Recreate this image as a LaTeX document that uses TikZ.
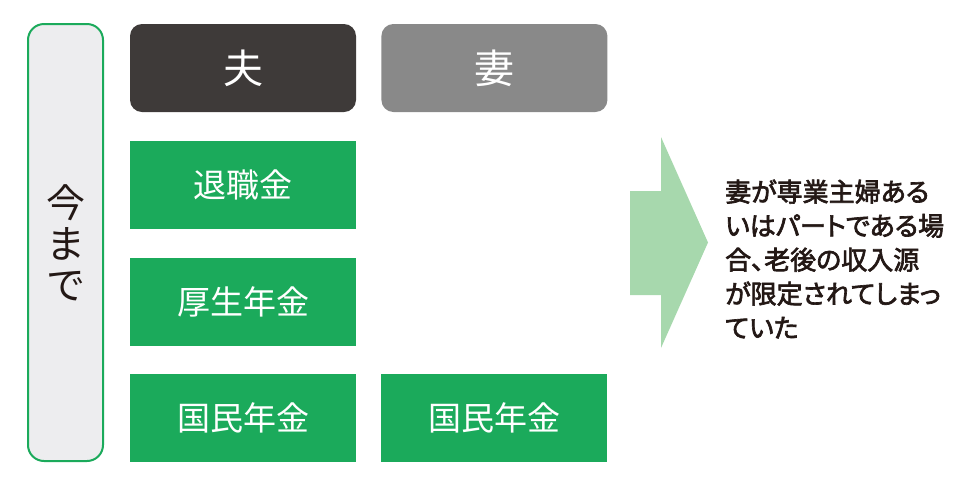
\documentclass[tikz,border=0pt]{standalone}
\usepackage{fontspec}
\setmainfont{Noto Sans CJK JP}
\newfontfamily\notefont[RawFeature=+palt, FakeBold=2.5]{Noto Sans CJK JP}
\usetikzlibrary{positioning}
\definecolor{cdark}{HTML}{3E3A39}
\definecolor{cgrey}{HTML}{898989}
\definecolor{cgreen}{HTML}{1BAA5B}
\definecolor{clight}{HTML}{A7D8AD}
\definecolor{cpanel}{HTML}{EDEDEF}
\definecolor{cink}{HTML}{231815}
\tikzset{
  every picture/.style={x=1pt, y=-1pt},
  head/.style={fill=#1, rounded corners=12pt, inner sep=0pt, minimum width=226pt, minimum height=88pt, text=white, font=\fontsize{40}{40}\selectfont},
  head/.default=cdark,
  pay/.style={fill=cgreen, inner sep=0pt, minimum width=226pt, minimum height=88pt, text=white, font=\fontsize{33}{33}\selectfont},
  side/.style={draw=cgreen, fill=cpanel, line width=2pt, rounded corners=16pt, inner sep=0pt, minimum width=75pt, minimum height=437pt, align=center, text=cink, font=\fontsize{39}{41}\selectfont},
  note/.style={align=left, inner sep=0pt, text=cink, font=\notefont\fontsize{26}{34}\selectfont},
}

\begin{document}
\begin{tikzpicture}
  \useasboundingbox (0,0) rectangle (978,483);
  % left panel
  \node[side] (until) at (65.5,242.5) {今\\ま\\で};
  % column heads
  \node[head=cdark] (husband) at (243,68) {夫};
  \node[head=cgrey, right=25pt of husband] (wife) {妻};
  % income sources
  \node[pay, below=29pt of husband] (retire) {退職金};
  \node[pay, below=28pt of retire] (pension) {厚生年金};
  \node[pay, below=28pt of pension] (basicH) {国民年金};
  \node[pay] (basicW) at (basicH -| wife) {国民年金};
  % arrow
  \fill[clight] (630,191) -- (661,191) -- (661,137) -- (708,242.5)
    -- (661,348) -- (661,295) -- (630,295) -- cycle;
  \node[note, anchor=west] (summary) at (725,259)
    {妻が専業主婦ある\\いはパートである場\\合、老後の収入源\\が限定されてしまっ\\ていた};
\end{tikzpicture}
\end{document}
